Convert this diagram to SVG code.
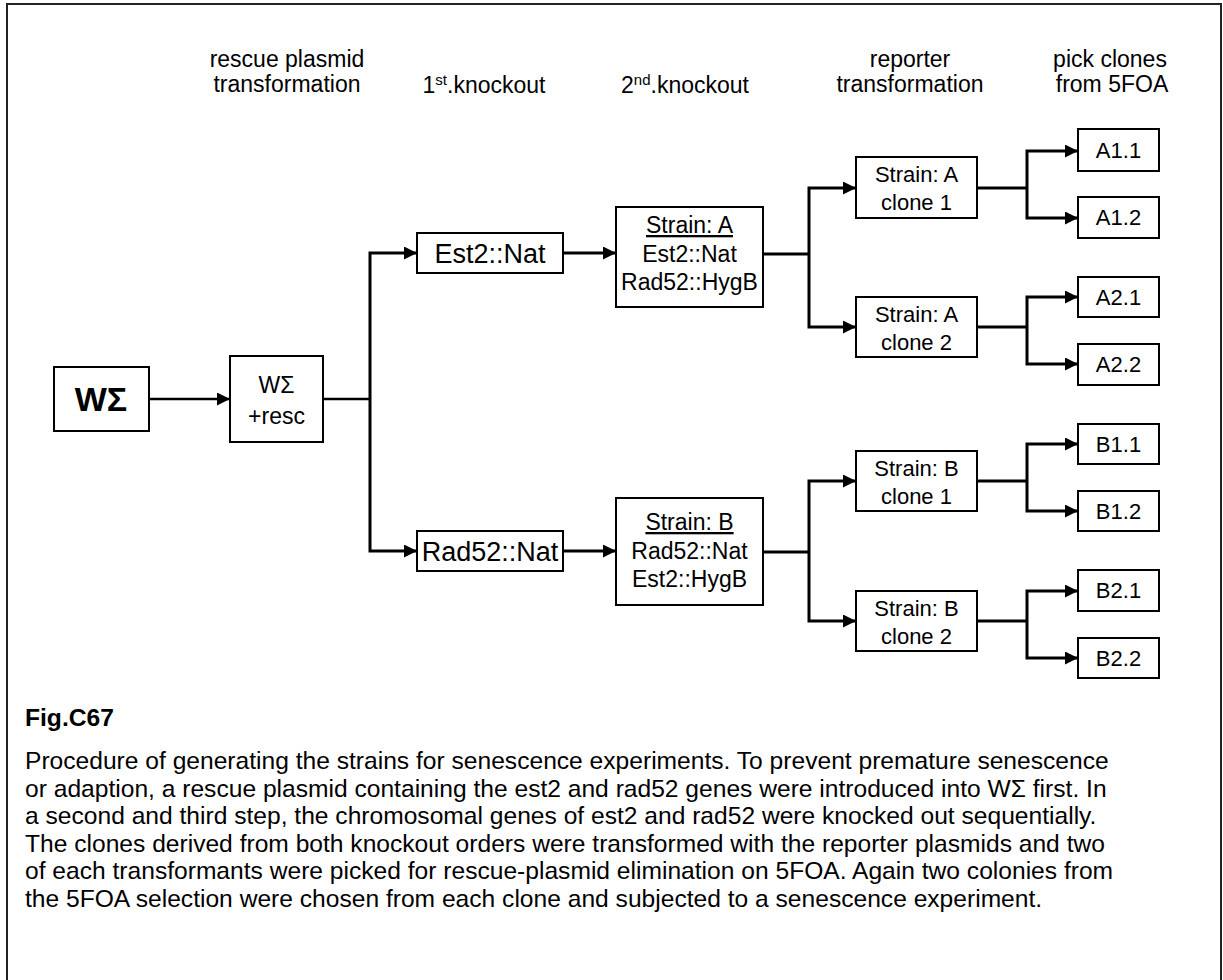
<svg xmlns="http://www.w3.org/2000/svg" width="1223" height="980" viewBox="0 0 1223 980">
  <style>
    text { font-family: "Liberation Sans", Arial, sans-serif; fill: #000; }
    .hdr { font-size: 23px; text-anchor: middle; }
    .box { fill: #fff; stroke: #000; stroke-width: 2; }
    .lbl { font-size: 23px; text-anchor: middle; }
    .big { font-size: 27px; text-anchor: middle; }
    .leaf { font-size: 22px; text-anchor: middle; }
    .cap { font-size: 24.6px; }
    .wire { fill: none; stroke: #000; stroke-width: 3; stroke-linejoin: miter; }
    .thin { fill: none; stroke: #000; stroke-width: 2.5; }
  </style>
  <defs>
    <marker id="ah" markerUnits="userSpaceOnUse" markerWidth="14" markerHeight="14" refX="13" refY="6.5" orient="auto">
      <path d="M0,0 L13,6.5 L0,13 Z" fill="#000"/>
    </marker>
  </defs>

  <!-- page frame -->
  <rect x="7" y="4" width="1214" height="1000" fill="#fff" stroke="#222" stroke-width="2"/>

  <!-- column headings -->
  <g id="headings">
    <text class="hdr" x="287" y="67">rescue plasmid</text>
    <text class="hdr" x="287" y="92">transformation</text>
    <text class="hdr" x="484" y="93">1<tspan font-size="15" dy="-8">st</tspan><tspan dy="8">.knockout</tspan></text>
    <text class="hdr" x="685" y="93">2<tspan font-size="15" dy="-8">nd</tspan><tspan dy="8">.knockout</tspan></text>
    <text class="hdr" x="910" y="67">reporter</text>
    <text class="hdr" x="910" y="92">transformation</text>
    <text class="hdr" x="1110" y="67">pick clones</text>
    <text class="hdr" x="1112" y="92">from 5FOA</text>
  </g>

  <!-- connectors -->
  <g id="connectors">
    <path class="thin" d="M149,399 H230" marker-end="url(#ah)"/>
    <path class="thin" d="M323,399 H370"/>
    <path class="wire" d="M370,399 V253 H417" marker-end="url(#ah)"/>
    <path class="wire" d="M370,399 V551 H417" marker-end="url(#ah)"/>
    <path class="wire" d="M563,253 H616" marker-end="url(#ah)"/>
    <path class="wire" d="M563,551 H616" marker-end="url(#ah)"/>

    <path class="wire" d="M763,254 H809"/>
    <path class="wire" d="M809,254 V188 H856" marker-end="url(#ah)"/>
    <path class="wire" d="M809,254 V327 H856" marker-end="url(#ah)"/>
    <path class="wire" d="M763,552 H809"/>
    <path class="wire" d="M809,552 V481 H856" marker-end="url(#ah)"/>
    <path class="wire" d="M809,552 V621 H856" marker-end="url(#ah)"/>

    <path class="wire" d="M977,188 H1027"/>
    <path class="wire" d="M1027,188 V151 H1078" marker-end="url(#ah)"/>
    <path class="wire" d="M1027,188 V218 H1078" marker-end="url(#ah)"/>
    <path class="wire" d="M977,327 H1027"/>
    <path class="wire" d="M1027,327 V297 H1078" marker-end="url(#ah)"/>
    <path class="wire" d="M1027,327 V364 H1078" marker-end="url(#ah)"/>
    <path class="wire" d="M977,481 H1027"/>
    <path class="wire" d="M1027,481 V444 H1078" marker-end="url(#ah)"/>
    <path class="wire" d="M1027,481 V511 H1078" marker-end="url(#ah)"/>
    <path class="wire" d="M977,621 H1027"/>
    <path class="wire" d="M1027,621 V591 H1078" marker-end="url(#ah)"/>
    <path class="wire" d="M1027,621 V658 H1078" marker-end="url(#ah)"/>
  </g>

  <!-- starting strain -->
  <g id="n-ws">
    <rect class="box" x="54" y="367" width="95" height="64"/>
    <text x="101" y="411" font-size="34" font-weight="bold" text-anchor="middle">WΣ</text>
  </g>
  <g id="n-ws-resc">
    <rect class="box" x="230" y="356" width="93" height="86"/>
    <text class="lbl" x="276.5" y="393" font-size="26">WΣ</text>
    <text class="lbl" x="276.5" y="424" font-size="26">+resc</text>
  </g>

  <!-- first knockout -->
  <g id="n-est2">
    <rect class="box" x="417" y="233" width="146" height="40"/>
    <text class="big" x="490" y="263">Est2::Nat</text>
  </g>
  <g id="n-rad52">
    <rect class="box" x="417" y="531" width="146" height="40"/>
    <text class="big" x="490" y="561">Rad52::Nat</text>
  </g>

  <!-- second knockout -->
  <g id="n-strain-a">
    <rect class="box" x="616" y="207" width="147" height="100"/>
    <text class="lbl" x="689.5" y="233" text-decoration="underline">Strain: A</text>
    <text class="lbl" x="689.5" y="262">Est2::Nat</text>
    <text class="lbl" x="689.5" y="290">Rad52::HygB</text>
  </g>
  <g id="n-strain-b">
    <rect class="box" x="616" y="498" width="147" height="107"/>
    <text class="lbl" x="689.5" y="530" text-decoration="underline">Strain: B</text>
    <text class="lbl" x="689.5" y="559">Rad52::Nat</text>
    <text class="lbl" x="689.5" y="587">Est2::HygB</text>
  </g>

  <!-- reporter transformants -->
  <g id="n-a-c1">
    <rect class="box" x="856" y="157" width="121" height="61"/>
    <text class="leaf" x="916.5" y="182">Strain: A</text>
    <text class="leaf" x="916.5" y="210">clone 1</text>
  </g>
  <g id="n-a-c2">
    <rect class="box" x="856" y="297" width="121" height="60"/>
    <text class="leaf" x="916.5" y="322">Strain: A</text>
    <text class="leaf" x="916.5" y="350">clone 2</text>
  </g>
  <g id="n-b-c1">
    <rect class="box" x="856" y="451" width="121" height="60"/>
    <text class="leaf" x="916.5" y="476">Strain: B</text>
    <text class="leaf" x="916.5" y="504">clone 1</text>
  </g>
  <g id="n-b-c2">
    <rect class="box" x="856" y="591" width="121" height="60"/>
    <text class="leaf" x="916.5" y="616">Strain: B</text>
    <text class="leaf" x="916.5" y="644">clone 2</text>
  </g>

  <!-- 5FOA picks -->
  <g id="n-a11"><rect class="box" x="1078" y="129" width="81" height="42"/><text class="leaf" x="1118.5" y="158">A1.1</text></g>
  <g id="n-a12"><rect class="box" x="1078" y="197" width="81" height="41"/><text class="leaf" x="1118.5" y="225">A1.2</text></g>
  <g id="n-a21"><rect class="box" x="1078" y="277" width="81" height="40"/><text class="leaf" x="1118.5" y="305">A2.1</text></g>
  <g id="n-a22"><rect class="box" x="1078" y="344" width="81" height="41"/><text class="leaf" x="1118.5" y="372">A2.2</text></g>
  <g id="n-b11"><rect class="box" x="1078" y="424" width="81" height="40"/><text class="leaf" x="1118.5" y="452">B1.1</text></g>
  <g id="n-b12"><rect class="box" x="1078" y="491" width="81" height="40"/><text class="leaf" x="1118.5" y="519">B1.2</text></g>
  <g id="n-b21"><rect class="box" x="1078" y="570" width="81" height="41"/><text class="leaf" x="1118.5" y="598">B2.1</text></g>
  <g id="n-b22"><rect class="box" x="1078" y="638" width="81" height="40"/><text class="leaf" x="1118.5" y="666">B2.2</text></g>

  <!-- caption -->
  <g id="caption">
    <text class="cap" x="25" y="726" font-weight="bold">Fig.C67</text>
    <text class="cap" x="25" y="769">Procedure of generating the strains for senescence experiments. To prevent premature senescence</text>
    <text class="cap" x="25" y="796.5">or adaption, a rescue plasmid containing the est2 and rad52 genes were introduced into WΣ first. In</text>
    <text class="cap" x="25" y="824">a second and third step, the chromosomal genes of est2 and rad52 were knocked out sequentially.</text>
    <text class="cap" x="25" y="851.5">The clones derived from both knockout orders were transformed with the reporter plasmids and two</text>
    <text class="cap" x="25" y="879">of each transformants were picked for rescue-plasmid elimination on 5FOA. Again two colonies from</text>
    <text class="cap" x="25" y="906.5">the 5FOA selection were chosen from each clone and subjected to a senescence experiment.</text>
  </g>
</svg>
